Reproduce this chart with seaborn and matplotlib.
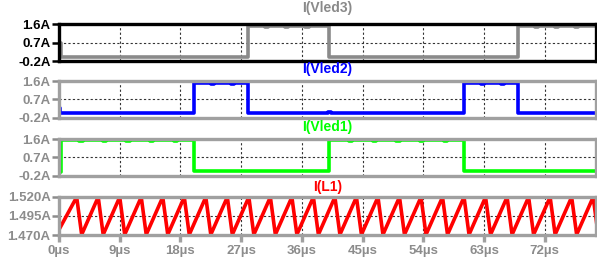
import matplotlib
matplotlib.use('Agg')
import numpy as np
import pandas as pd
import seaborn as sns
import matplotlib.pyplot as plt

# time in microseconds, current in amps
vled3_t = [0.0, 0.3, 28.0, 30.5, 31.0, 33.5, 34.0, 36.5, 37.0, 40.0,
           68.0, 70.5, 71.0, 73.5, 74.0, 76.5, 77.0, 79.6]
vled3_i = [0.7, 0.0, 1.52, 1.49, 1.52, 1.49, 1.52, 1.49, 1.52, 0.0,
           1.52, 1.49, 1.52, 1.49, 1.52, 1.49, 1.52, 1.52]

vled2_t = [0.0, 0.2, 20.0, 22.5, 23.0, 25.5, 26.0, 28.0, 39.8, 40.3,
           60.0, 62.5, 63.0, 65.5, 66.0, 68.0, 79.6]
vled2_i = [0.3, 0.02, 1.50, 1.47, 1.50, 1.47, 1.50, 0.02, 0.08, 0.02,
           1.50, 1.47, 1.50, 1.47, 1.50, 0.02, 0.02]

vled1_t = [0.0, 0.3, 3.0, 3.5, 6.5, 7.0, 10.0, 10.5, 13.5, 14.0, 17.0, 17.5, 20.0,
           40.0, 43.0, 43.5, 46.5, 47.0, 50.0, 50.5, 53.5, 54.0, 57.0, 57.5, 60.0, 79.6]
vled1_i = [0.0, 1.53, 1.50, 1.53, 1.50, 1.53, 1.50, 1.53, 1.50, 1.53, 1.50, 1.53, 0.05,
           1.53, 1.50, 1.53, 1.50, 1.53, 1.50, 1.53, 1.50, 1.53, 1.50, 1.53, 0.05, 0.05]

l1_peak_t = [2.62, 5.81, 9.00, 12.19, 15.38, 18.57, 21.76, 24.95, 28.14, 31.33,
             34.52, 37.71, 40.90, 44.09, 47.28, 50.47, 53.66, 56.85, 60.04, 63.23,
             66.42, 69.61, 72.80, 75.99, 79.18]
l1_trough_t = [3.36, 6.55, 9.74, 12.93, 16.12, 19.31, 22.50, 25.69, 28.88, 32.07,
               35.26, 38.45, 41.64, 44.83, 48.02, 51.21, 54.40, 57.59, 60.78, 63.97,
               67.16, 70.35, 73.54, 76.73, 79.92]
l1_start = 1.477
l1_peak = 1.5195
l1_trough = 1.4705

x_ticks = [0, 9, 18, 27, 36, 45, 54, 63, 72]
x_labels = [f'{v}µs' for v in x_ticks]
led_ticks = [-0.2, 0.7, 1.6]
led_labels = ['-0.2A', '0.7A', '1.6A']
l1_ticks = [1.470, 1.495, 1.520]
l1_labels = ['1.470A', '1.495A', '1.520A']

sns.set_style('white')
plt.rcParams['font.family'] = ['Liberation Sans', 'DejaVu Sans']
plt.rcParams['font.weight'] = 'bold'

fig = plt.figure(figsize=(5.97, 2.64), dpi=100)
left, width = 59 / 597, 537 / 597
H = 264
panels = [(24.3, 61.0), (81.0, 117.7), (139.0, 176.0), (196.7, 235.0)]
axes = [fig.add_axes([left, 1 - b / H, width, (b - t) / H]) for t, b in panels]

l1_t = [0.0]
l1_i = [l1_start]
for p, q in zip(l1_peak_t, l1_trough_t):
    l1_t += [p, q]
    l1_i += [l1_peak, l1_trough]

series = [
    (vled3_t, vled3_i, '#8a8a8a', 'I(Vled3)', '#000000', '#000000', '#8a8a8a'),
    (vled2_t, vled2_i, '#0000ff', 'I(Vled2)', '#a0a0a0', '#8c8c8c', '#0000ff'),
    (vled1_t, vled1_i, '#00ff00', 'I(Vled1)', '#a0a0a0', '#8c8c8c', '#00ff00'),
    (l1_t, l1_i, '#ff0000', 'I(L1)', '#a0a0a0', '#8c8c8c', '#ff0000'),
]
title_y = [8, 69, 126.5, 186.5]

for k, (ax, (t, i, col, name, frame, tcol, ncol)) in enumerate(zip(axes, series)):
    df = pd.DataFrame({'t': t, 'i': i})
    if k < 3:
        sns.lineplot(data=df, x='t', y='i', ax=ax, color=col, lw=2.6,
                     drawstyle='steps-post', estimator=None, sort=False)
        ax.set_ylim(-0.2, 1.6)
        ax.set_yticks(led_ticks)
        ax.set_yticklabels(led_labels)
    else:
        sns.lineplot(data=df, x='t', y='i', ax=ax, color=col, lw=2.6,
                     estimator=None, sort=False)
        ax.set_ylim(1.470, 1.520)
        ax.set_yticks(l1_ticks)
        ax.set_yticklabels(l1_labels)
    ax.set_xlim(0, 79.6)
    ax.set_xticks(x_ticks)
    ax.set_xlabel('')
    ax.set_ylabel('')
    ax.set_axisbelow(True)
    ax.grid(True, linestyle=(0, (2, 2)), color='#333333', lw=0.8)
    for s in ax.spines.values():
        s.set_visible(True)
        s.set_color(frame)
        s.set_linewidth(2.4)
    ax.tick_params(axis='y', left=True, length=5, width=1.8, color=frame if k == 0 else '#8c8c8c',
                   labelsize=9.5, labelcolor=tcol, pad=1)
    if k == 3:
        ax.set_xticklabels(x_labels)
        ax.tick_params(axis='x', bottom=True, length=5, width=2.4, color='#a0a0a0',
                       labelsize=9.5, labelcolor='#8c8c8c', pad=2.5)
    else:
        ax.tick_params(axis='x', bottom=False, labelbottom=False)
    for lab in ax.get_yticklabels() + ax.get_xticklabels():
        lab.set_fontweight('bold')
    fig.text(left + width / 2, 1 - title_y[k] / H, name, color=ncol, ha='center',
             va='center', fontsize=10, fontweight='bold')

fig.savefig('out.png', dpi=100)
